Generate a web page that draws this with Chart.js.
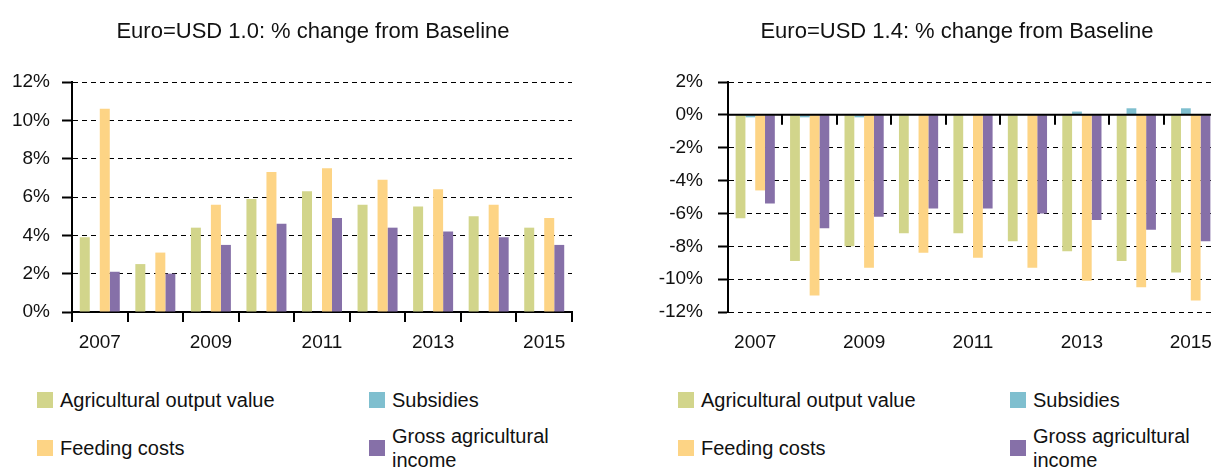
<!DOCTYPE html>
<html>
<head>
<meta charset="utf-8">
<script src="https://cdn.jsdelivr.net/npm/chart.js@4.4.1/dist/chart.umd.min.js"></script>
<style>
  body { margin: 0; width: 1211px; height: 468px; overflow: hidden; background: #fff; position: relative;
         font-family: "Liberation Sans", Arial, sans-serif; }
  canvas { position: absolute; top: 0; }
  #leftChart { left: 0; }
  #rightChart { left: 640px; }
  .item { position: absolute; display: flex; align-items: center; font-size: 20px; line-height: 24px; color: #111; }
  .box { width: 16px; height: 16px; flex: none; margin-right: 7px; }
</style>
</head>
<body>
<canvas id="leftChart" width="622" height="370"></canvas>
<canvas id="rightChart" width="634" height="370"></canvas>
<div id="legends"></div>
<script>
const years = ['2007', '2008', '2009', '2010', '2011', '2012', '2013', '2014', '2015'];

const seriesNames = ['Agricultural output value', 'Subsidies', 'Feeding costs', 'Gross agricultural income'];
const seriesColors = ['#d2d58b', '#7fbfcf', '#fdd485', '#8670a8'];

// Euro=USD 1.0
const outputLeft = [3.9, 2.5, 4.4, 5.9, 6.3, 5.6, 5.5, 5.0, 4.4];
const subsidiesLeft = [0, 0, 0, 0, 0, 0, 0, 0, 0];
const feedLeft = [10.6, 3.1, 5.6, 7.3, 7.5, 6.9, 6.4, 5.6, 4.9];
const incomeLeft = [2.1, 2.0, 3.5, 4.6, 4.9, 4.4, 4.2, 3.9, 3.5];

// Euro=USD 1.4
const outputRight = [-6.3, -8.9, -8.0, -7.2, -7.2, -7.7, -8.3, -8.9, -9.6];
const subsidiesRight = [-0.15, -0.15, -0.15, 0, 0, 0, 0.2, 0.4, 0.4];
const feedRight = [-4.6, -11.0, -9.3, -8.4, -8.7, -9.3, -10.1, -10.5, -11.3];
const incomeRight = [-5.4, -6.9, -6.2, -5.7, -5.7, -6.0, -6.4, -7.0, -7.7];

const FONT = '"Liberation Sans", Arial, sans-serif';

// solid zero line plus little ticks at the year boundaries (right chart)
const zeroLinePlugin = {
  id: 'zeroLine',
  afterDatasetsDraw(chart) {
    const { ctx, chartArea, scales } = chart;
    const y0 = scales.y.getPixelForValue(0);
    const n = chart.data.labels.length;
    const step = (chartArea.right - chartArea.left) / n;
    ctx.save();
    ctx.strokeStyle = '#000';
    ctx.lineWidth = 2;
    ctx.beginPath();
    ctx.moveTo(chartArea.left, y0);
    ctx.lineTo(chartArea.right, y0);
    for (let i = 1; i < n; i++) {
      const x = Math.round(chartArea.left + i * step);
      ctx.moveTo(x, y0);
      ctx.lineTo(x, y0 + 10);
    }
    ctx.stroke();
    ctx.restore();
  }
};

// move the title so it is centred where the original has it
function titleShift(centerX) {
  return {
    id: 'titleShift',
    afterLayout(chart) {
      const t = chart.titleBlock;
      if (!t) return;
      const w = t.right - t.left;
      t.left = centerX - w / 2;
      t.right = centerX + w / 2;
    }
  };
}

function makeChart(id, title, values, yMin, yMax, opts) {
  const ctx = document.getElementById(id).getContext('2d');
  const plugins = [titleShift(opts.titleX)];
  if (opts.zeroLine) plugins.push(zeroLinePlugin);
  return new Chart(ctx, {
    type: 'bar',
    data: {
      labels: years,
      datasets: values.map((v, i) => ({
        label: seriesNames[i],
        data: v,
        backgroundColor: seriesColors[i],
        borderWidth: 0,
        categoryPercentage: 0.72,
        barPercentage: 1.0
      }))
    },
    options: {
      responsive: false,
      animation: false,
      devicePixelRatio: 1,
      layout: { padding: { left: 0, right: opts.padRight, top: 0, bottom: 0 } },
      plugins: {
        legend: { display: false },
        tooltip: { enabled: false },
        title: {
          display: true,
          text: title,
          color: '#111',
          font: { family: FONT, size: 22, weight: 'normal' },
          padding: { top: 19, bottom: 36.6 }
        }
      },
      scales: {
        x: {
          afterFit: (scale) => { scale.height = 58; },
          grid: {
            display: opts.xTicks,
            drawOnChartArea: false,
            offset: true,
            tickLength: 10,
            color: '#000',
            lineWidth: 2
          },
          border: { display: opts.xTicks, color: '#000', width: 2 },
          ticks: {
            autoSkip: false,
            maxRotation: 0,
            color: '#111',
            padding: opts.xPad,
            font: { family: FONT, size: 19 },
            callback: function (value, index) {
              return index % 2 === 0 ? this.getLabelForValue(value) : '';
            }
          }
        },
        y: {
          min: yMin,
          max: yMax,
          afterFit: (scale) => { scale.width = opts.yWidth; },
          grid: {
            color: '#000',
            lineWidth: 1,
            tickLength: 10,
            tickColor: '#000',
            tickWidth: 2
          },
          border: { display: true, color: '#000', width: 2, dash: [5, 4] },
          ticks: {
            stepSize: 2,
            color: '#111',
            padding: opts.yPad,
            font: { family: FONT, size: 19 },
            callback: (v) => v + '%'
          }
        }
      }
    },
    plugins: plugins
  });
}

makeChart('leftChart', 'Euro=USD 1.0: % change from Baseline',
  [outputLeft, subsidiesLeft, feedLeft, incomeLeft], 0, 12,
  { padRight: 50, yWidth: 72, yPad: 12, xPad: 9, xTicks: true, zeroLine: false, titleX: 313 });

makeChart('rightChart', 'Euro=USD 1.4: % change from Baseline',
  [outputRight, subsidiesRight, feedRight, incomeRight], -12, 2,
  { padRight: 56, yWidth: 88, yPad: 15, xPad: 9, xTicks: false, zeroLine: true, titleX: 317 });

// legends: two columns, two rows under each chart
const legendBox = document.getElementById('legends');
const panelOffsets = [0, 641];
const itemPos = [[37, 400], [369, 400], [37, 448], [369, 448]];
panelOffsets.forEach(off => {
  seriesNames.forEach((name, k) => {
    const item = document.createElement('div');
    item.className = 'item';
    item.style.left = (off + itemPos[k][0]) + 'px';
    item.style.top = (itemPos[k][1] - 25) + 'px';
    item.style.height = '50px';
    const box = document.createElement('span');
    box.className = 'box';
    box.style.background = seriesColors[k];
    const txt = document.createElement('span');
    txt.textContent = name;
    if (k === 3) txt.style.width = '165px';
    item.appendChild(box);
    item.appendChild(txt);
    legendBox.appendChild(item);
  });
});
</script>
</body>
</html>
